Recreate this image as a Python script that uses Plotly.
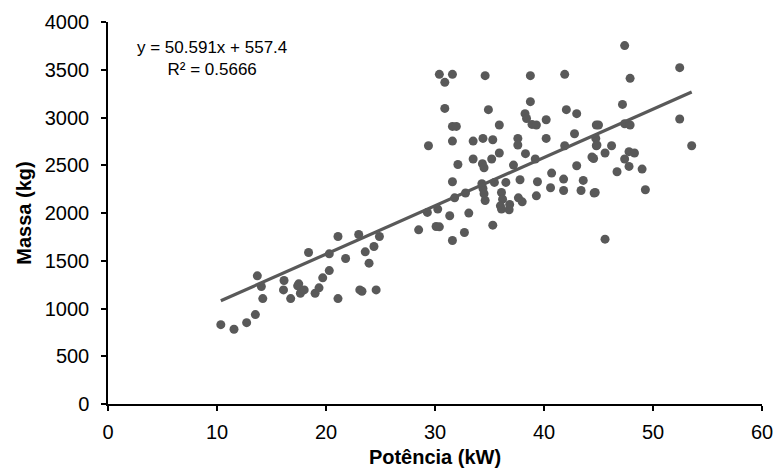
import plotly.graph_objects as go

# Potência (kW)
potencia = [
    10.35, 11.56, 12.72, 13.52, 13.7, 14.07, 14.2, 16.15, 16.1, 16.76, 17.4,
    17.5, 17.65, 18.0, 18.4, 19.0, 19.36, 19.7, 20.3, 20.3, 21.1, 21.1, 21.8,
    23.0, 23.1, 23.3, 23.6, 23.95, 24.4, 24.6, 24.9, 28.5, 29.3, 30.1, 30.25,
    29.4, 30.4, 30.9, 30.9, 31.6, 34.6, 38.75, 41.9, 34.9, 38.75, 42.05, 43.0,
    38.26, 38.4, 38.9, 39.3, 40.2, 31.6, 31.96, 35.9, 44.8, 31.6, 33.5, 34.4,
    35.3, 37.6, 37.6, 40.2, 42.8, 41.9, 44.8, 44.4, 35.9, 38.3, 39.2, 33.5,
    35.2, 32.1, 34.35, 34.5, 37.2, 43.0, 31.6, 34.3, 34.4, 35.45, 36.5, 37.8,
    39.4, 40.7, 41.8, 43.6, 31.8, 32.8, 34.5, 34.6, 36.1, 36.2, 36.0, 36.1,
    36.85, 36.8, 37.65, 38.0, 39.3, 40.6, 41.8, 43.4, 44.6, 31.35, 33.1, 30.4,
    32.7, 31.6, 35.3, 47.4, 52.45, 47.9, 47.2, 45.0, 47.4, 47.9, 52.45, 44.75,
    44.86, 46.2, 44.55, 45.6, 47.8, 48.3, 47.4, 47.8, 46.7, 49.0, 53.55, 44.7,
    49.3, 45.6,
]

# Massa (kg)
massa = [
    831, 783, 852, 936, 1342, 1230, 1104, 1293, 1195, 1104, 1237,
    1258, 1160, 1195, 1586, 1160, 1216, 1321, 1397, 1572, 1754, 1104, 1523,
    1775, 1195, 1181, 1593, 1475, 1649, 1195, 1754, 1824, 2006, 1859, 2041,
    2704, 3452, 3368, 3095, 3452, 3438, 3438, 3452, 3082, 3166, 3082, 3040,
    3040, 2990, 2928, 2921, 2977, 2907, 2907, 2921, 2921, 2753, 2753, 2781,
    2767, 2781, 2712, 2781, 2830, 2704, 2704, 2586, 2628, 2621, 2565, 2565,
    2565, 2508, 2516, 2474, 2502, 2495, 2327, 2306, 2257, 2320, 2320, 2348,
    2327, 2418, 2355, 2341, 2159, 2209, 2201, 2131, 2215, 2145, 2075, 2041,
    2089, 2034, 2159, 2117, 2180, 2264, 2236, 2236, 2209, 1971, 1999, 1855,
    1796, 1712, 1873, 3753, 3522, 3410, 3137, 2921, 2935, 2921, 2984, 2781,
    2712, 2704, 2571, 2628, 2642, 2628, 2565, 2488, 2432, 2460, 2704, 2215,
    2243, 1726,
]

# Linear trend line (Excel): y = 50.591x + 557.4
slope = 50.591
intercept = 557.4
trend_x = [min(potencia), max(potencia)]
trend_y = [slope * v + intercept for v in trend_x]

x_ticks = [0, 10, 20, 30, 40, 50, 60]
y_ticks = [0, 500, 1000, 1500, 2000, 2500, 3000, 3500, 4000]

gray = "#595959"
font_family = "Liberation Sans, Arial, sans-serif"

fig = go.Figure()
fig.add_trace(go.Scatter(
    x=potencia, y=massa, mode="markers",
    marker=dict(size=9, color=gray, line=dict(width=0)),
    showlegend=False, hoverinfo="x+y",
))
fig.add_trace(go.Scatter(
    x=trend_x, y=trend_y, mode="lines",
    line=dict(color=gray, width=3.2),
    showlegend=False, hoverinfo="skip",
))

fig.add_annotation(
    xref="paper", yref="paper", x=0.159, y=0.905,
    text="y = 50.591x + 557.4<br>R² = 0.5666",
    showarrow=False, align="center",
    font=dict(family=font_family, size=17, color="#000000"),
    xanchor="center", yanchor="middle",
)

axis_common = dict(
    showgrid=False, zeroline=False, showline=True, linecolor="#000000",
    linewidth=1.5, ticks="outside", ticklen=5, tickwidth=1.5, tickcolor="#000000",
    tickfont=dict(family=font_family, size=20, color="#000000"),
    automargin=False,
)

fig.update_layout(
    width=775, height=471,
    margin=dict(l=108, r=13, t=22, b=67),
    paper_bgcolor="#ffffff", plot_bgcolor="#ffffff",
    font=dict(family=font_family, color="#000000"),
    xaxis=dict(
        range=[0, 60], tickvals=x_ticks, ticktext=[str(v) for v in x_ticks],
        ticklabelstandoff=4,
        title=dict(text="<b>Potência (kW)</b>", font=dict(family=font_family, size=20), standoff=8),
        **axis_common,
    ),
    yaxis=dict(
        range=[0, 4000], tickvals=y_ticks, ticktext=[str(v) for v in y_ticks],
        ticklabelstandoff=8,
        title=dict(text="<b>Massa (kg)</b>", font=dict(family=font_family, size=20), standoff=8),
        **axis_common,
    ),
)

fig.write_html("out.html")
